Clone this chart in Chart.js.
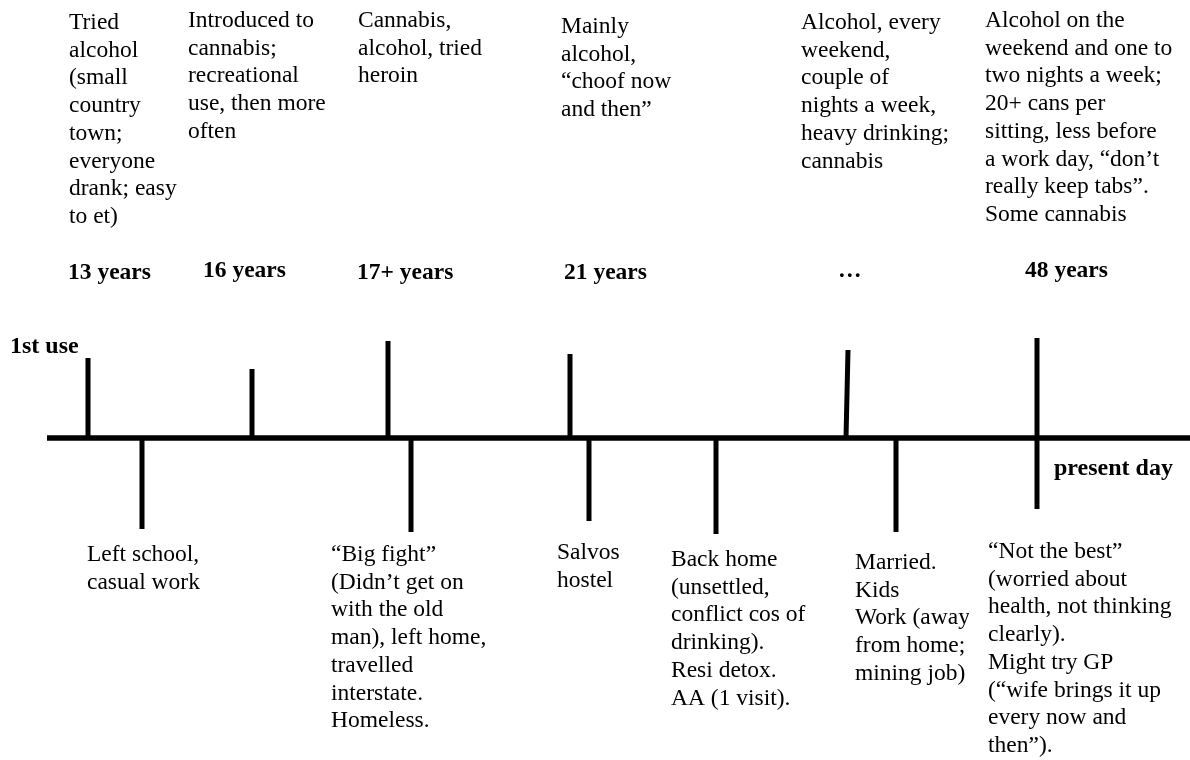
<!DOCTYPE html>
<html>
<head>
<meta charset="utf-8">
<title>Timeline</title>
<script src="https://cdn.jsdelivr.net/npm/chart.js"></script>
<style>
  body { margin: 0; background: #fff; }
  #wrap { width: 1190px; height: 760px; }
</style>
</head>
<body>
<div id="wrap"><canvas id="timeline" width="1190" height="760"></canvas></div>
<script>
// timeline events, positions along the line (0 - 1190) and how far each stroke reaches
var lineStart = 47, lineEnd = 1190, lineLevel = 438;

var useX      = [88, 252, 388, 570, 848, 1037];
var useTop    = [358, 369, 341, 354, 350, 338];
var useFoot   = [88, 252, 388, 570, 846, 1037];   // 5th stroke leans a little
var useBottom = [438, 438, 438, 438, 438, 509];   // present day crosses the line

var lifeX      = [142, 411, 589, 716, 896];
var lifeBottom = [529, 532, 521, 534, 532];

var ages = ["13 years", "16 years", "17+ years", "21 years", "\u2026", "48 years"];

var useNotes = [
  ["Tried", "alcohol", "(small", "country", "town;", "everyone", "drank; easy", "to et)"],
  ["Introduced to", "cannabis;", "recreational", "use, then more", "often"],
  ["Cannabis,", "alcohol, tried", "heroin"],
  ["Mainly", "alcohol,", "\u201cchoof now", "and then\u201d"],
  ["Alcohol, every", "weekend,", "couple of", "nights a week,", "heavy drinking;", "cannabis"],
  ["Alcohol on the", "weekend and one to", "two nights a week;", "20+ cans per", "sitting, less before",
   "a work day, \u201cdon\u2019t", "really keep tabs\u201d.", "Some cannabis"]
];

var lifeNotes = [
  ["Left school,", "casual work"],
  ["\u201cBig fight\u201d", "(Didn\u2019t get on", "with the old", "man), left home,", "travelled", "interstate.", "Homeless."],
  ["Salvos", "hostel"],
  ["Back home", "(unsettled,", "conflict cos of", "drinking).", "Resi detox.", "AA (1 visit)."],
  ["Married.", "Kids", "Work (away", "from home;", "mining job)"],
  ["\u201cNot the best\u201d", "(worried about", "health, not thinking", "clearly).", "Might try GP",
   "(\u201cwife brings it up", "every now and", "then\u201d)."]
];

// where the writing sits
var ageAt      = [[68, 279], [203, 277], [357, 279], [564, 279], [838, 277], [1025, 277]];
var useNoteAt  = [[69, 29], [188, 27], [358, 27], [561, 33], [801, 29], [985, 27]];
var lifeNoteAt = [[87, 561], [331, 561], [557, 559], [671, 566], [855, 569], [988, 558]];
var lifeClip   = [null, null, null, null, 969, null];
var lineGap = 27.7;

function strokes(xs, y0s, xs1, y1s) {
  var pts = [];
  for (var i = 0; i < xs.length; i++) {
    pts.push({x: xs1[i], y: y0s[i]});
    pts.push({x: xs[i], y: y1s[i]});
    pts.push({x: xs[i], y: null});
  }
  return pts;
}

var upData = strokes(useX, useBottom, useFoot, useTop);
var downData = strokes(lifeX, lifeX.map(function () { return lineLevel; }), lifeX, lifeBottom);

var serif = "'Liberation Serif', 'Times New Roman', serif";

var notesPlugin = {
  id: 'notes',
  afterDraw: function (chart) {
    var ctx = chart.ctx, sx = chart.scales.x, sy = chart.scales.y;
    ctx.save();
    ctx.fillStyle = '#000';
    ctx.textBaseline = 'alphabetic';
    ctx.textAlign = 'left';

    ctx.font = '23.5px ' + serif;
    useNotes.forEach(function (lines, i) {
      lines.forEach(function (t, j) {
        ctx.fillText(t, sx.getPixelForValue(useNoteAt[i][0]), sy.getPixelForValue(useNoteAt[i][1] + j * lineGap));
      });
    });
    lifeNotes.forEach(function (lines, i) {
      ctx.save();
      if (lifeClip[i]) {
        ctx.beginPath();
        ctx.rect(0, 0, sx.getPixelForValue(lifeClip[i]), chart.height);
        ctx.clip();
      }
      lines.forEach(function (t, j) {
        ctx.fillText(t, sx.getPixelForValue(lifeNoteAt[i][0]), sy.getPixelForValue(lifeNoteAt[i][1] + j * lineGap));
      });
      ctx.restore();
    });

    ctx.font = 'bold 23.5px ' + serif;
    ages.forEach(function (t, i) {
      ctx.fillText(t, sx.getPixelForValue(ageAt[i][0]), sy.getPixelForValue(ageAt[i][1]));
    });
    ctx.font = 'bold 24px ' + serif;
    ctx.fillText('present day', sx.getPixelForValue(1054), sy.getPixelForValue(475));
    ctx.fillText('1st use', sx.getPixelForValue(10), sy.getPixelForValue(353));
    ctx.restore();
  }
};

new Chart(document.getElementById('timeline'), {
  type: 'line',
  data: {
    datasets: [{
      data: [{x: lineStart, y: lineLevel}, {x: lineEnd, y: lineLevel}],
      borderColor: '#000',
      borderWidth: 5.5
    }, {
      data: upData,
      borderColor: '#000',
      borderWidth: 5
    }, {
      data: downData,
      borderColor: '#000',
      borderWidth: 5
    }]
  },
  options: {
    responsive: false,
    animation: false,
    layout: {padding: 0},
    elements: {
      point: {radius: 0},
      line: {tension: 0, borderCapStyle: 'butt', fill: false}
    },
    plugins: {legend: {display: false}, tooltip: {enabled: false}},
    scales: {
      x: {type: 'linear', min: 0, max: 1190, display: false},
      y: {type: 'linear', min: 0, max: 760, reverse: true, display: false}
    }
  },
  plugins: [notesPlugin]
});
</script>
</body>
</html>
